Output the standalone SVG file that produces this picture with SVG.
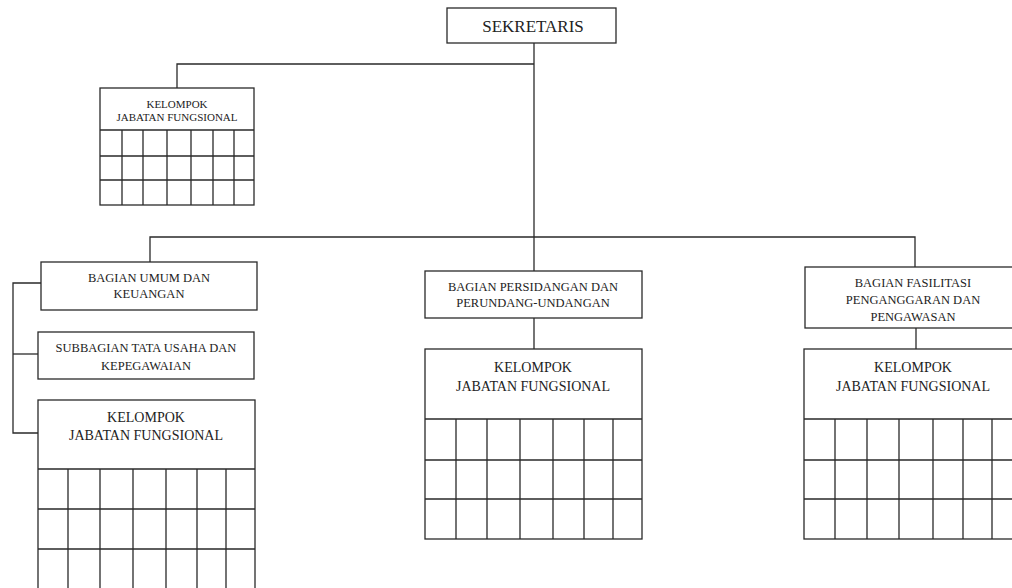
<svg xmlns="http://www.w3.org/2000/svg" width="1012" height="588" viewBox="0 0 1012 588">
<style>
rect.box{fill:#fff;stroke:#2a2a2a;stroke-width:1.3}
path.grid{fill:none;stroke:#2a2a2a;stroke-width:1.3}
.conn path{fill:none;stroke:#2a2a2a;stroke-width:1.3}
text{font-family:"Liberation Serif","Times New Roman",serif;fill:#222;text-anchor:middle}
.s{font-size:11px}
.m{font-size:12.5px}
.l{font-size:14px}
.xl{font-size:17px}
</style>
<rect width="1012" height="588" fill="#fff"/>
<g class="conn">
<path d="M534 43V237"/>
<path d="M534 64H177V88"/>
<path d="M150 262V237H915V267"/>
<path d="M534 237V271"/>
<path d="M534 318V349"/>
<path d="M916 328V349"/>
<path d="M41 283H13V433H38"/>
<path d="M13 354H38"/>
</g>
<g id="sekretaris">
<rect class="box" x="447" y="8" width="169" height="35"/>
<text class="xl" x="533" y="31.5">SEKRETARIS</text>
</g>
<g id="kjf-top">
<rect class="box" x="100" y="88" width="154" height="117"/>
<text class="s" x="177" y="108">KELOMPOK</text>
<text class="s" x="177" y="121">JABATAN FUNGSIONAL</text>
<path class="grid" d="M100 130H254M100 156H254M100 180H254M122 130V205M143 130V205M167 130V205M191 130V205M213 130V205M234 130V205"/>
</g>
<g id="bagian-umum">
<rect class="box" x="41" y="262" width="216" height="48"/>
<text class="m" x="149" y="281.5">BAGIAN UMUM DAN</text>
<text class="m" x="149" y="297.5">KEUANGAN</text>
</g>
<g id="subbagian">
<rect class="box" x="38" y="332" width="216" height="47"/>
<text class="m" x="146" y="351.5">SUBBAGIAN TATA USAHA DAN</text>
<text class="m" x="146" y="369.5">KEPEGAWAIAN</text>
</g>
<g id="kjf-left">
<rect class="box" x="38" y="400" width="217" height="200"/>
<text class="l" x="146" y="422">KELOMPOK</text>
<text class="l" x="146" y="440">JABATAN FUNGSIONAL</text>
<path class="grid" d="M38 469H255M38 509H255M38 549H255M68 469V600M100 469V600M133 469V600M166 469V600M197 469V600M226 469V600"/>
</g>
<g id="bagian-persidangan">
<rect class="box" x="425" y="271" width="217" height="47"/>
<text class="m" x="533" y="290.5">BAGIAN PERSIDANGAN DAN</text>
<text class="m" x="533" y="306.5">PERUNDANG-UNDANGAN</text>
</g>
<g id="kjf-middle">
<rect class="box" x="425" y="349" width="217" height="190"/>
<text class="l" x="533" y="372">KELOMPOK</text>
<text class="l" x="533" y="391">JABATAN FUNGSIONAL</text>
<path class="grid" d="M425 419H642M425 460H642M425 499H642M456 419V539M487 419V539M520 419V539M553 419V539M584 419V539M613 419V539"/>
</g>
<g id="bagian-fasilitasi">
<rect class="box" x="805" y="267" width="217" height="61"/>
<text class="m" x="913" y="286.5">BAGIAN FASILITASI</text>
<text class="m" x="913" y="303.5">PENGANGGARAN DAN</text>
<text class="m" x="913" y="320.5">PENGAWASAN</text>
</g>
<g id="kjf-right">
<rect class="box" x="804" y="349" width="218" height="190"/>
<text class="l" x="913" y="372">KELOMPOK</text>
<text class="l" x="913" y="391">JABATAN FUNGSIONAL</text>
<path class="grid" d="M804 419H1022M804 460H1022M804 499H1022M835 419V539M867 419V539M899 419V539M933 419V539M963 419V539M992 419V539"/>
</g>
</svg>
